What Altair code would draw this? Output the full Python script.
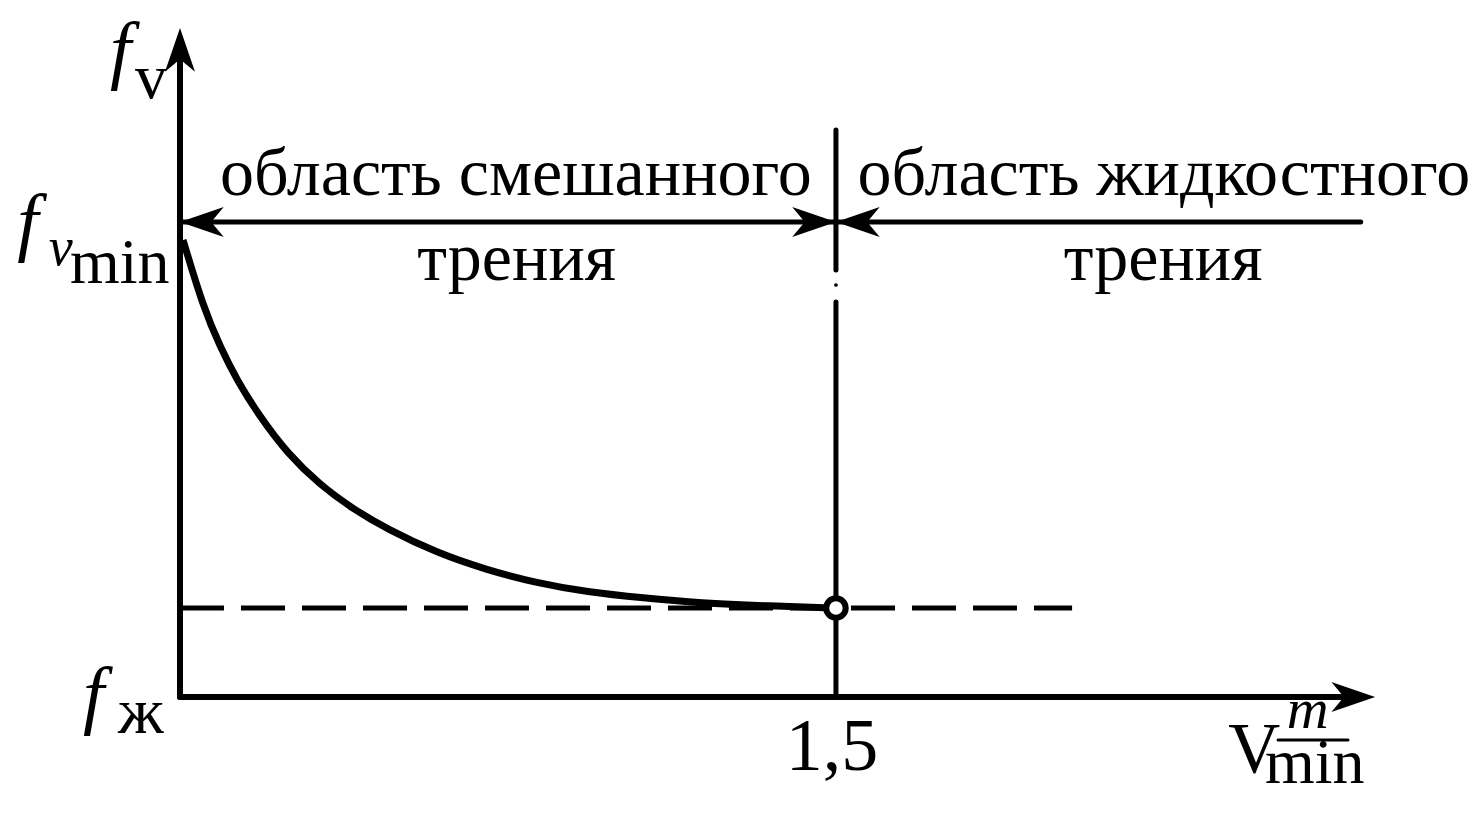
import altair as alt
import pandas as pd

# ---- data (in chart units: x = V, 1.5 at the boundary; y arbitrary friction units) ----
curve_x = [0.007, 0.053, 0.092, 0.130, 0.183, 0.245, 0.320, 0.396, 0.473, 0.588, 0.702, 0.816, 0.931, 1.059, 1.189, 1.349, 1.500]
curve_y = [4.57, 3.90, 3.50, 3.17, 2.80, 2.44, 2.12, 1.88, 1.68, 1.44, 1.27, 1.14, 1.05, 0.99, 0.94, 0.91, 0.89]

x_boundary = 1.5
y_fvmin = 4.75
y_fzh = 0.89
x_max = 2.733
y_max = 6.69

region_texts = ["область смешанного", "трения", "область жидкостного", "трения"]
region_x = [0.768, 0.770, 2.250, 2.248]
region_y = [5.02, 4.17, 5.02, 4.17]

tick_text = ["1,5"]
tick_x = [1.491]
tick_y = [-0.73]

# axis-label pieces
it_text = ["f", "f", "v", "f", "m"]
it_x = [-0.160, -0.372, -0.300, -0.222, 2.531]
it_y = [6.22, 4.50, 4.32, -0.23, -0.31]
it_size = [76, 76, 54, 76, 58]

rm_text = ["v", "min", "ж", "V", "min"]
rm_x = [-0.103, -0.2515, -0.142, 2.397, 2.481]
rm_y = [5.99, 4.14, -0.36, -0.75, -0.86]
rm_size = [64, 64, 66, 72, 64]

XS = alt.Scale(domain=[-0.3933, 2.9545], nice=False, zero=False)
YS = alt.Scale(domain=[-1.01, 6.89], nice=False, zero=False)

def X(f="x"):
    return alt.X(f + ":Q", scale=XS, axis=None)

def Y(f="y"):
    return alt.Y(f + ":Q", scale=YS, axis=None)

# solid segments
seg = pd.DataFrame({
    "x": [0, 0, 0, x_boundary, x_boundary, 2.511],
    "x2": [0, 2.70, 2.70, x_boundary, x_boundary, 2.671],
    "y": [0, 0, y_fvmin, 5.67, 3.95, -0.43],
    "y2": [6.56, 0, y_fvmin, 4.27, 0, -0.43],
    "w": [6, 6, 5, 5, 5, 3],
})
rules = alt.Chart(seg).mark_rule(color="black", strokeCap="round").encode(
    x=X(), x2="x2:Q", y=Y(), y2="y2:Q", strokeWidth=alt.StrokeWidth("w:Q", scale=None)
)

dot = alt.Chart(pd.DataFrame({"x": [x_boundary], "y": [4.12]})).mark_point(
    shape="circle", filled=True, color="black", size=14, opacity=1
).encode(x=X(), y=Y())

dash = alt.Chart(pd.DataFrame({"x": [0], "x2": [2.04], "y": [y_fzh], "y2": [y_fzh]})).mark_rule(
    color="black", strokeWidth=5, strokeDash=[44, 17]
).encode(x=X(), x2="x2:Q", y=Y(), y2="y2:Q")

curve = alt.Chart(pd.DataFrame({"x": curve_x, "y": curve_y, "o": range(len(curve_x))})).mark_line(
    color="black", strokeWidth=7, interpolate="basis"
).encode(x=X(), y=Y(), order="o:Q")

arrow_path = "M0,0 L0.6,1.75 L0,1.25 L-0.6,1.75 Z"
arrows = alt.Chart(pd.DataFrame({
    "x": [0, x_max, 0, x_boundary, x_boundary],
    "y": [y_max, 0, y_fvmin, y_fvmin, y_fvmin],
    "a": [0, 90, 270, 90, 270],
})).mark_point(shape=arrow_path, filled=True, color="black", size=2500, opacity=1).encode(
    x=X(), y=Y(), angle=alt.Angle("a:Q", scale=None)
)

circle = alt.Chart(pd.DataFrame({"x": [x_boundary], "y": [y_fzh]})).mark_point(
    shape="circle", filled=True, fill="white", stroke="black", strokeWidth=6, size=380, opacity=1
).encode(x=X(), y=Y())

font = "Liberation Serif"
region = alt.Chart(pd.DataFrame({"t": region_texts, "x": region_x, "y": region_y})).mark_text(
    font=font, fontSize=68, align="center", baseline="alphabetic", color="black"
).encode(x=X(), y=Y(), text="t:N")

tick = alt.Chart(pd.DataFrame({"t": tick_text, "x": tick_x, "y": tick_y})).mark_text(
    font=font, fontSize=74, align="center", baseline="alphabetic", color="black"
).encode(x=X(), y=Y(), text="t:N")

ital = alt.Chart(pd.DataFrame({"t": it_text, "x": it_x, "y": it_y, "s": it_size})).mark_text(
    font=font, fontStyle="italic", align="left", baseline="alphabetic", color="black"
).encode(x=X(), y=Y(), text="t:N", size=alt.Size("s:Q", scale=None))

roman = alt.Chart(pd.DataFrame({"t": rm_text, "x": rm_x, "y": rm_y, "s": rm_size})).mark_text(
    font=font, align="left", baseline="alphabetic", color="black"
).encode(x=X(), y=Y(), text="t:N", size=alt.Size("s:Q", scale=None))

chart = alt.layer(dash, curve, rules, dot, arrows, circle, region, tick, ital, roman).properties(
    width=1464, height=790, padding=0, autosize=alt.AutoSizeParams(type="none"),
    background="white"
).configure_view(stroke=None)

chart.save("out.html", embed_options={"renderer": "svg", "actions": False})
